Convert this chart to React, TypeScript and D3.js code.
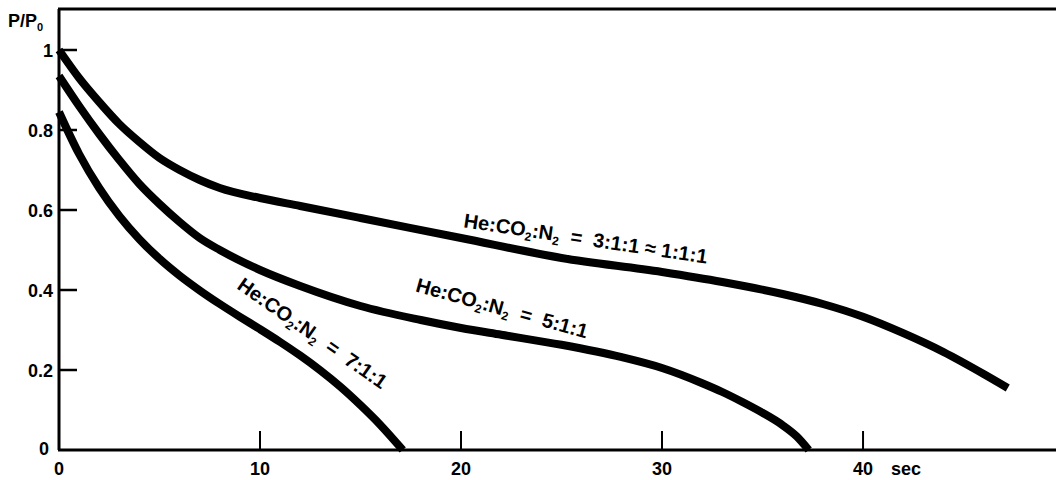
import React from "react";
import * as d3 from "d3";

// Time (s) and normalized pressure P/P0 for each gas mixture
const timeA = [0, 1, 2, 3, 4, 5, 6, 7, 8, 10, 12, 15, 20, 25, 30, 33, 36, 38, 40, 42, 44, 46, 47.2];
const ratioA = [1.0, 0.93, 0.87, 0.815, 0.77, 0.73, 0.7, 0.675, 0.655, 0.63, 0.61, 0.58, 0.53, 0.48, 0.445, 0.42, 0.39, 0.365, 0.333, 0.292, 0.245, 0.19, 0.155];

const timeB = [0, 1, 2, 3, 4, 5, 6, 7, 8, 10, 12, 15, 18, 20, 22, 25, 28, 30, 32, 33, 34, 35, 36, 36.7, 37.3];
const ratioB = [0.935, 0.86, 0.79, 0.725, 0.665, 0.615, 0.57, 0.53, 0.5, 0.45, 0.41, 0.36, 0.325, 0.305, 0.288, 0.263, 0.232, 0.205, 0.167, 0.145, 0.12, 0.093, 0.062, 0.034, 0.0];

const timeC = [0, 1, 2, 3, 4, 5, 6, 7, 8, 9, 10, 11, 12, 13, 14, 15, 16, 17.1];
const ratioC = [0.845, 0.74, 0.655, 0.585, 0.527, 0.478, 0.436, 0.399, 0.365, 0.333, 0.302, 0.27, 0.236, 0.199, 0.158, 0.112, 0.062, 0.0];

const xTicks = [0, 10, 20, 30, 40];
const xTickLabels = ["0", "10", "20", "30", "40"];
const yTicks = [0.2, 0.4, 0.6, 0.8, 1];
const yTickLabels = ["0.2", "0.4", "0.6", "0.8", "1"];

const mixRatios = ["3:1:1 \u2248 1:1:1", "5:1:1", "7:1:1"];

const W = 1056;
const H = 480;
const FONT = "'Liberation Sans', Arial, Helvetica, sans-serif";

export default function App() {
  const x = d3.scaleLinear().domain([0, 49.6]).range([59, 1056]);
  const y = d3.scaleLinear().domain([0, 1.1025]).range([450, 9]);

  const line = d3
    .line<[number, number]>()
    .x((d) => x(d[0]))
    .y((d) => y(d[1]))
    .curve(d3.curveMonotoneX);

  const series = [
    timeA.map((t, i) => [t, ratioA[i]] as [number, number]),
    timeB.map((t, i) => [t, ratioB[i]] as [number, number]),
    timeC.map((t, i) => [t, ratioC[i]] as [number, number]),
  ];

  // label anchor (data coords), rotation in degrees
  const labelPos: { t: number; v: number; rot: number }[] = [
    { t: 20.1, v: 0.557, rot: 8.5 },
    { t: 17.7, v: 0.397, rot: 15.5 },
    { t: 8.8, v: 0.405, rot: 35 },
  ];

  const mixLabel = (ratio: string) => (
    <>
      He:CO
      <tspan fontSize="12" dy="4">2</tspan>
      <tspan dy="-4">:N</tspan>
      <tspan fontSize="12" dy="4">2</tspan>
      <tspan dy="-4">{"  =  " + ratio}</tspan>
    </>
  );

  return (
    <svg
      width={W}
      height={H}
      style={{ position: "absolute", left: 0, top: 0, background: "#fff" }}
      fontFamily={FONT}
      fontWeight="bold"
    >
      {/* frame: left, top, bottom */}
      <line x1={59} x2={59} y1={9} y2={450} stroke="#000" strokeWidth={3} />
      <line x1={58} x2={W} y1={9} y2={9} stroke="#000" strokeWidth={3} />
      <line x1={58} x2={W} y1={450} y2={450} stroke="#000" strokeWidth={3} />

      {/* y ticks */}
      {yTicks.map((v, i) => (
        <g key={"y" + v}>
          <line x1={59} x2={77} y1={y(v)} y2={y(v)} stroke="#000" strokeWidth={2.5} />
          <text x={53} y={y(v) + 7} textAnchor="end" fontSize="18">
            {yTickLabels[i]}
          </text>
        </g>
      ))}
      <text x={49} y={455} textAnchor="end" fontSize="18">0</text>

      {/* x ticks */}
      {xTicks.map((t, i) => (
        <g key={"x" + t}>
          {t > 0 && (
            <line x1={x(t)} x2={x(t)} y1={450} y2={431} stroke="#000" strokeWidth={2} />
          )}
          <text x={x(t)} y={475} textAnchor="middle" fontSize="18">
            {xTickLabels[i]}
          </text>
        </g>
      ))}
      <text x={x(40) + 28} y={475} fontSize="18">sec</text>

      {/* y axis title */}
      <text x={8} y={27} fontSize="18">
        P/P<tspan fontSize="11" dy="4">0</tspan>
      </text>

      {/* curves */}
      {series.map((s, i) => (
        <path
          key={"c" + i}
          d={line(s) ?? ""}
          fill="none"
          stroke="#000"
          strokeWidth={8}
          strokeLinecap="butt"
        />
      ))}

      {/* mixture labels */}
      {labelPos.map((p, i) => (
        <text
          key={"l" + i}
          transform={`translate(${x(p.t)},${y(p.v)}) rotate(${p.rot})`}
          fontSize="20"
          style={{ whiteSpace: "pre" }}
        >
          {mixLabel(mixRatios[i])}
        </text>
      ))}
    </svg>
  );
}
